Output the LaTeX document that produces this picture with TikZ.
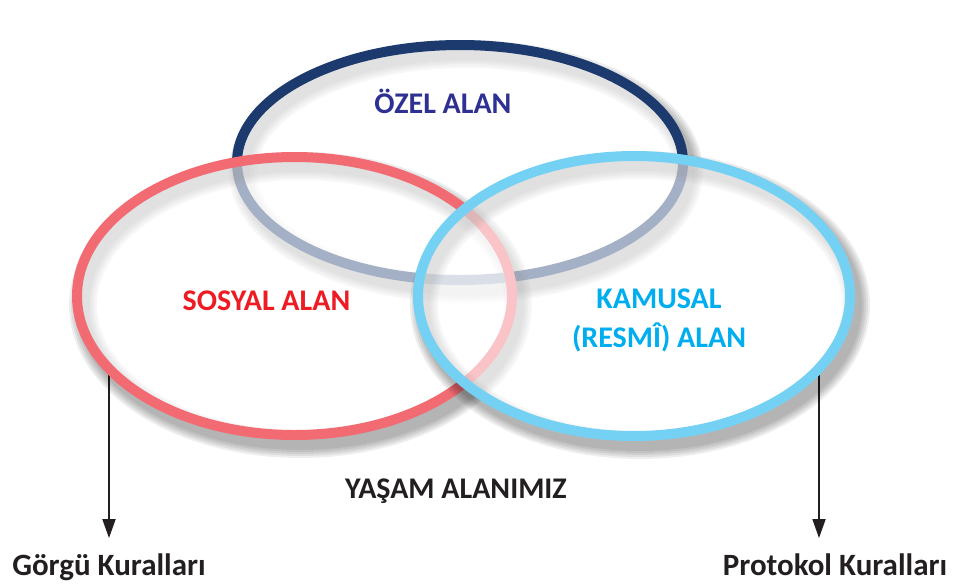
\documentclass[tikz,border=0pt]{standalone}
\usepackage{fontspec}
\setmainfont{Carlito}
\usetikzlibrary{calc,arrows.meta}
\definecolor{navyring}{HTML}{1D3A6E}
\definecolor{navytext}{HTML}{2E3192}
\definecolor{redring}{HTML}{F26B73}
\definecolor{redtext}{HTML}{ED1C24}
\definecolor{bluering}{HTML}{75D1F3}
\definecolor{bluetext}{HTML}{00AEEF}
\definecolor{ink}{HTML}{231F20}
\begin{document}
\begin{tikzpicture}[x=1pt,y=-1pt,
  ring/.style={line width=10pt},
  ringshadow/.style={black,opacity=0.065},
  veil/.style={fill=white,fill opacity=0.6},
  area/.style={font=\bfseries\fontsize{30}{39}\selectfont,align=center},
  rule/.style={font=\bfseries\fontsize{31}{33}\selectfont,text=ink,anchor=base,inner ysep=15pt},
  pointer/.style={ink,line width=1.8pt,-{Triangle[length=19pt,width=13pt]}}
]
\useasboundingbox (0,0) rectangle (953,587);

\coordinate (O) at (460,162.5);
\coordinate (S) at (294.5,296);
\coordinate (K) at (634,296);

% arrows to the rules
\coordinate (gstart) at (109,365);
\coordinate (pstart) at (819,365);
\node[rule] (gorgu) at (109,575) {Görgü Kuralları};
\node[rule] (protokol) at (835,575) {Protokol Kuralları};
\draw[pointer] (gstart) -- (gstart |- gorgu.north);
\draw[pointer] (pstart) -- (pstart |- protokol.north);

% ozel alan
\foreach \w in {12,16,20,24,28}
  \draw[ringshadow,line width=\w pt] ($(O)+(6,9)$) ellipse [x radius=223,y radius=117.5];
\draw[ring,navyring,veil] (O) ellipse [x radius=223,y radius=117.5];

% sosyal alan
\foreach \w in {12,16,20,24,28}
  \draw[ringshadow,line width=\w pt] ($(S)+(6,9)$) ellipse [x radius=217.5,y radius=139];
\draw[ring,redring,veil] (S) ellipse [x radius=217.5,y radius=139];

% kamusal alan
\foreach \w in {12,16,20,24,28}
  \draw[ringshadow,line width=\w pt] ($(K)+(6,9)$) ellipse [x radius=216,y radius=140];
\draw[ring,bluering,veil] (K) ellipse [x radius=216,y radius=140];

\node[area,text=navytext] (ozel) at (443,101) {ÖZEL ALAN};
\node[area,text=redtext] (sosyal) at (266.5,301) {SOSYAL ALAN};
\node[area,text=bluetext] (kamusal) at (659,320.5) {KAMUSAL\\(RESMÎ) ALAN};
\node[area,text=ink] (yasam) at (456,491) {YAŞAM ALANIMIZ};
\end{tikzpicture}
\end{document}
